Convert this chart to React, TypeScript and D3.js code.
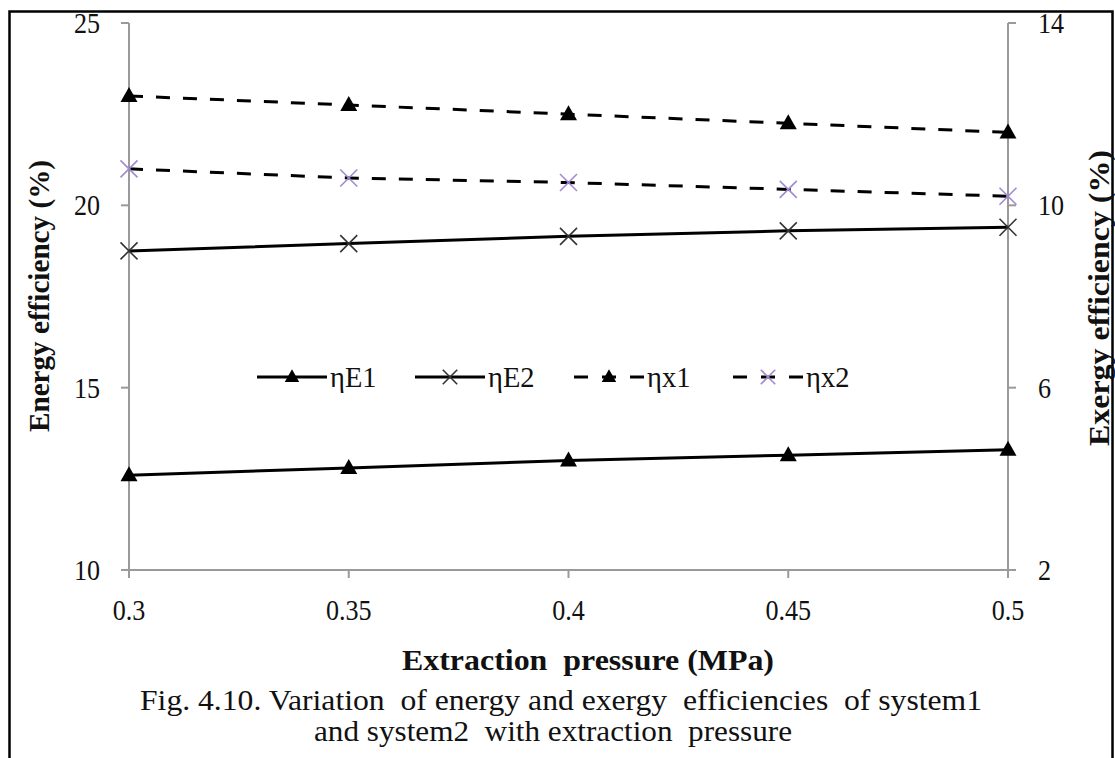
import React from "react";
import * as d3 from "d3";

// Extraction pressure (MPa)
const pressures = [0.3, 0.35, 0.4, 0.45, 0.5];
const pressureTicks = ["0.3", "0.35", "0.4", "0.45", "0.5"];

// Energy efficiencies (%), left axis
const etaE1 = [12.6, 12.8, 13.0, 13.15, 13.3];
const etaE2 = [18.75, 18.95, 19.15, 19.3, 19.4];

// Exergy efficiencies (%), right axis
const etaX1 = [12.4, 12.2, 12.0, 11.8, 11.6];
const etaX2 = [10.8, 10.6, 10.5, 10.35, 10.2];

const leftTicks = [10, 15, 20, 25];
const rightTicks = [2, 6, 10, 14];

const W = 1115;
const H = 758;
const FONT = "Liberation Serif, Times New Roman, serif";
const AXIS = "#9a9a9a";
const PURPLE = "#a08ad0";
const SQUEEZE = 0.9;

type Marker = "triangle" | "cross";

interface Series {
  name: string;
  values: number[];
  axis: "left" | "right";
  dashed: boolean;
  marker: Marker;
  markerColor: string;
}

const series: Series[] = [
  { name: "ηE1", values: etaE1, axis: "left", dashed: false, marker: "triangle", markerColor: "#000" },
  { name: "ηE2", values: etaE2, axis: "left", dashed: false, marker: "cross", markerColor: "#333" },
  { name: "ηx1", values: etaX1, axis: "right", dashed: true, marker: "triangle", markerColor: "#000" },
  { name: "ηx2", values: etaX2, axis: "right", dashed: true, marker: "cross", markerColor: PURPLE },
];

function MarkerShape({ kind, x, y, color, size = 1 }: { kind: Marker; x: number; y: number; color: string; size?: number }) {
  if (kind === "triangle") {
    const p = d3.path();
    p.moveTo(x, y - 9 * size);
    p.lineTo(x + 8.5 * size, y + 6 * size);
    p.lineTo(x - 8.5 * size, y + 6 * size);
    p.closePath();
    return <path d={p.toString()} fill={color} />;
  }
  const r = 8.5 * size;
  return (
    <g stroke={color} strokeWidth={1.6}>
      <line x1={x - r} y1={y - r} x2={x + r} y2={y + r} />
      <line x1={x - r} y1={y + r} x2={x + r} y2={y - r} />
    </g>
  );
}

const textStyle: React.CSSProperties = { fontFamily: FONT, whiteSpace: "pre" };

// Narrow serif label placed at (x, y) baseline
function Label({ x, y, anchor = "start", size = 29, squeeze = SQUEEZE, children }: { x: number; y: number; anchor?: "start" | "middle" | "end"; size?: number; squeeze?: number; children: React.ReactNode }) {
  return (
    <text
      transform={`translate(${x},${y}) scale(${squeeze},1)`}
      textAnchor={anchor}
      fontSize={size}
      fill="#111"
      style={textStyle}
    >
      {children}
    </text>
  );
}

export default function App() {
  const plot = { left: 129, right: 1008, top: 23, bottom: 570 };

  const x = d3.scaleLinear().domain([0.3, 0.5]).range([plot.left, plot.right]);
  const yL = d3.scaleLinear().domain([10, 25]).range([plot.bottom, plot.top]);
  const yR = d3.scaleLinear().domain([2, 14]).range([plot.bottom, plot.top]);

  const legendItems = [
    { s: series[0], x0: 257 },
    { s: series[1], x0: 415 },
    { s: series[2], x0: 574 },
    { s: series[3], x0: 733 },
  ];
  const legendY = 377;

  return (
    <svg
      width={W}
      height={H}
      viewBox={`0 0 ${W} ${H}`}
      style={{ position: "absolute", left: 0, top: 0, background: "#fff", fontFamily: FONT }}
    >
      <rect x={0} y={0} width={W} height={H} fill="#fff" />
      {/* frame */}
      <rect x={9.5} y={11.5} width={1103} height={760} fill="none" stroke="#000" strokeWidth={2.5} />

      {/* axes */}
      <g stroke={AXIS} strokeWidth={2} fill="none">
        <line x1={plot.left} y1={plot.top} x2={plot.left} y2={plot.bottom} />
        <line x1={plot.right} y1={plot.top} x2={plot.right} y2={plot.bottom} />
        <line x1={plot.left} y1={plot.bottom} x2={plot.right} y2={plot.bottom} />
        {leftTicks.map((t) => (
          <line key={"lt" + t} x1={plot.left - 8} x2={plot.left} y1={yL(t)} y2={yL(t)} />
        ))}
        {rightTicks.map((t) => (
          <line key={"rt" + t} x1={plot.right} x2={plot.right + 8} y1={yR(t)} y2={yR(t)} />
        ))}
        {pressures.map((p) => (
          <line key={"xt" + p} x1={x(p)} x2={x(p)} y1={plot.bottom} y2={plot.bottom + 8} />
        ))}
      </g>

      {/* tick labels */}
      {leftTicks.map((t) => (
        <Label key={"ll" + t} x={100} y={yL(t) + 10} anchor="end">
          {t}
        </Label>
      ))}
      {rightTicks.map((t) => (
        <Label key={"rl" + t} x={1038} y={yR(t) + 10}>
          {t}
        </Label>
      ))}
      {pressures.map((p, i) => (
        <Label key={"xl" + p} x={x(p)} y={620} anchor="middle">
          {pressureTicks[i]}
        </Label>
      ))}

      {/* series */}
      {series.map((s) => {
        const yS = s.axis === "left" ? yL : yR;
        const line = d3
          .line<number>()
          .x((_, i) => x(pressures[i]))
          .y((v) => yS(v));
        return (
          <g key={s.name}>
            <path
              d={line(s.values) ?? ""}
              fill="none"
              stroke="#000"
              strokeWidth={3}
              strokeDasharray={s.dashed ? "14,13" : undefined}
            />
            {s.values.map((v, i) => (
              <MarkerShape key={i} kind={s.marker} x={x(pressures[i])} y={yS(v)} color={s.markerColor} />
            ))}
          </g>
        );
      })}

      {/* legend */}
      {legendItems.map(({ s, x0 }) => (
        <g key={"lg" + s.name}>
          <line
            x1={x0}
            x2={x0 + 70}
            y1={legendY}
            y2={legendY}
            stroke="#000"
            strokeWidth={3}
            strokeDasharray={s.dashed ? "14,14" : undefined}
          />
          <MarkerShape kind={s.marker} x={x0 + 35} y={legendY} color={s.markerColor} size={0.85} />
          <Label x={x0 + 73} y={legendY + 10} size={30} squeeze={0.95}>
            {s.name}
          </Label>
        </g>
      ))}

      {/* axis titles */}
      <text
        transform={`translate(49, 296) rotate(-90)`}
        textAnchor="middle"
        fontSize={29}
        fontWeight="bold"
        fill="#111"
        style={textStyle}
        textLength={272}
        lengthAdjust="spacingAndGlyphs"
      >
        Energy efficiency (%)
      </text>
      <text
        transform={`translate(1109, 298) rotate(-90)`}
        textAnchor="middle"
        fontSize={29}
        fontWeight="bold"
        fill="#111"
        style={textStyle}
        textLength={296}
        lengthAdjust="spacingAndGlyphs"
      >
        Exergy efficiency (%)
      </text>
      <text
        x={588}
        y={670}
        textAnchor="middle"
        fontSize={29}
        fontWeight="bold"
        fill="#111"
        style={textStyle}
        textLength={372}
        lengthAdjust="spacingAndGlyphs"
      >
        Extraction  pressure (MPa)
      </text>

      {/* caption */}
      <text x={561} y={710} textAnchor="middle" fontSize={30} fill="#111" style={textStyle} textLength={842} lengthAdjust="spacingAndGlyphs">
        Fig. 4.10. Variation  of energy and exergy  efficiencies  of system1
      </text>
      <text x={553} y={741} textAnchor="middle" fontSize={30} fill="#111" style={textStyle} textLength={478} lengthAdjust="spacingAndGlyphs">
        and system2  with extraction  pressure
      </text>
    </svg>
  );
}
